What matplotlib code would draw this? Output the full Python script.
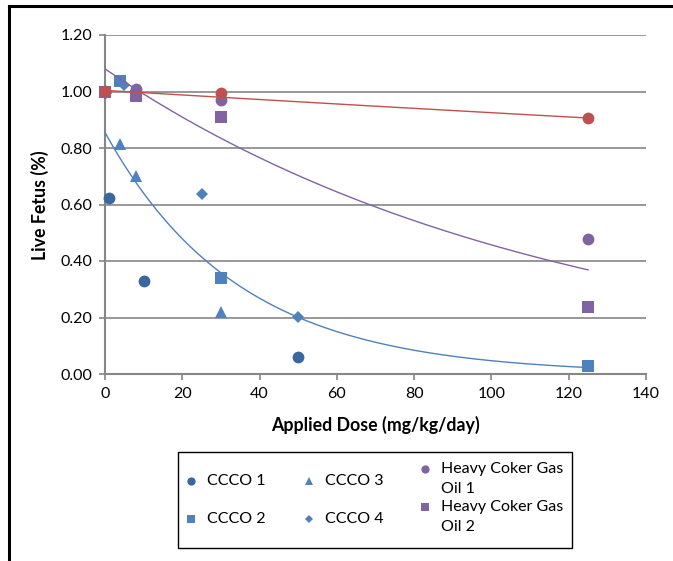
import numpy as np
import matplotlib
matplotlib.use("Agg")
import matplotlib.pyplot as plt
from matplotlib.lines import Line2D
from matplotlib.patches import Rectangle

plt.rcParams['font.family'] = ['Lato', 'DejaVu Sans']

# data
ccco1_x = [0, 1, 10, 50]
ccco1_y = [1.00, 0.622, 0.328, 0.061]
ccco2_x = [0, 4, 30, 125]
ccco2_y = [1.00, 1.037, 0.339, 0.029]
ccco3_x = [0, 4, 8, 30]
ccco3_y = [1.00, 0.814, 0.702, 0.218]
ccco4_x = [0, 5, 25, 50]
ccco4_y = [1.00, 1.023, 0.636, 0.203]
hcgo1_x = [0, 8, 30, 125]
hcgo1_y = [1.00, 1.008, 0.970, 0.479]
hcgo2_x = [0, 8, 30, 125]
hcgo2_y = [1.00, 0.984, 0.909, 0.238]
ctrl_x = [0, 30, 125]
ctrl_y = [1.002, 0.996, 0.906]

# exponential trendlines y = a*exp(b*x), coefficients
trend_blue = (0.855, -0.029)
trend_purple = (1.08, -0.0086)
trend_red = (1.004, -0.00082)
trend_range = (0, 125)

x_ticks = [0, 20, 40, 60, 80, 100, 120, 140]
y_ticks = [0.0, 0.2, 0.4, 0.6, 0.8, 1.0, 1.2]

BLUE_D = '#3A67A0'
BLUE = '#4F81BD'
PURPLE = '#8064A2'
RED = '#C0504D'
GRID = '#868686'

series = [
    ("CCCO 1", ccco1_x, ccco1_y, 'o', BLUE_D, 8.5),
    ("CCCO 2", ccco2_x, ccco2_y, 's', BLUE, 8),
    ("CCCO 3", ccco3_x, ccco3_y, '^', BLUE, 8.5),
    ("CCCO 4", ccco4_x, ccco4_y, 'D', BLUE, 6.5),
    ("Heavy Coker Gas\nOil 1", hcgo1_x, hcgo1_y, 'o', PURPLE, 8.5),
    ("Heavy Coker Gas\nOil 2", hcgo2_x, hcgo2_y, 's', PURPLE, 8),
    (None, ctrl_x, ctrl_y, 'o', RED, 8.5),
]

fig = plt.figure(figsize=(6.73, 5.61), dpi=100)
ax = fig.add_axes([105/673, 1-374/561, (646-105)/673, (374-35)/561])

for name, xs, ys, mk, col, ms in series:
    ax.plot(xs, ys, linestyle='none', marker=mk, color=col, markersize=ms,
            markeredgewidth=0, zorder=3, clip_on=False)

xx = np.linspace(trend_range[0], trend_range[1], 300)
for (a, b), col in [(trend_blue, BLUE), (trend_purple, PURPLE), (trend_red, RED)]:
    ax.plot(xx, a*np.exp(b*xx), color=col, lw=1.0, zorder=4)

ax.set_xlim(0, 140)
ax.set_ylim(0, 1.2)
ax.set_xticks(x_ticks)
ax.set_yticks(y_ticks)
ax.set_yticklabels(["%.2f" % v for v in y_ticks])
ax.tick_params(axis='both', colors=GRID, labelcolor='black', labelsize=11.5,
               length=4, width=1.2, direction='out', pad=5)
ax.grid(axis='y', color=GRID, lw=1.2)
ax.set_axisbelow(True)
for s in ['top', 'right']:
    ax.spines[s].set_visible(False)
for s in ['left', 'bottom']:
    ax.spines[s].set_color(GRID)
    ax.spines[s].set_linewidth(1.5)

fig.text(375/673, 1-425/561, "Applied Dose (mg/kg/day)", ha='center', va='center',
         fontsize=12.8, fontweight='bold')
fig.text(40/673, 1-205/561, "Live Fetus (%)", ha='center', va='center',
         rotation=90, fontsize=12.8, fontweight='bold')

# outer frame (only top and left edges are in view)
fig.add_artist(Line2D([9/673, 9/673], [0, 1-6/561], color='black', lw=2.2,
                      transform=fig.transFigure))
fig.add_artist(Line2D([9/673, 1], [1-6/561, 1-6/561], color='black', lw=2.2,
                      transform=fig.transFigure))

# legend box, Excel style: markers sit on the first line of wrapped labels
fig.add_artist(Rectangle((178/673, 1-548/561), (572-178)/673, (548-452)/561,
                         transform=fig.transFigure, fill=False, ec='black', lw=1.0))
leg_pos = [(191, 481), (191, 519), (309, 481), (309, 519), (425, 469), (425, 507)]
for (name, xs, ys, mk, col, ms), (px, py) in zip(series[:6], leg_pos):
    fig.add_artist(Line2D([px/673], [1-py/561], marker=mk, color=col,
                          markersize=ms*0.7, markeredgewidth=0, linestyle='none',
                          transform=fig.transFigure))
    for i, line in enumerate(name.split('\n')):
        fig.text((px+16)/673, 1-(py+20*i)/561, line, ha='left', va='center',
                 fontsize=11.5)

fig.savefig("out.png", dpi=100)
